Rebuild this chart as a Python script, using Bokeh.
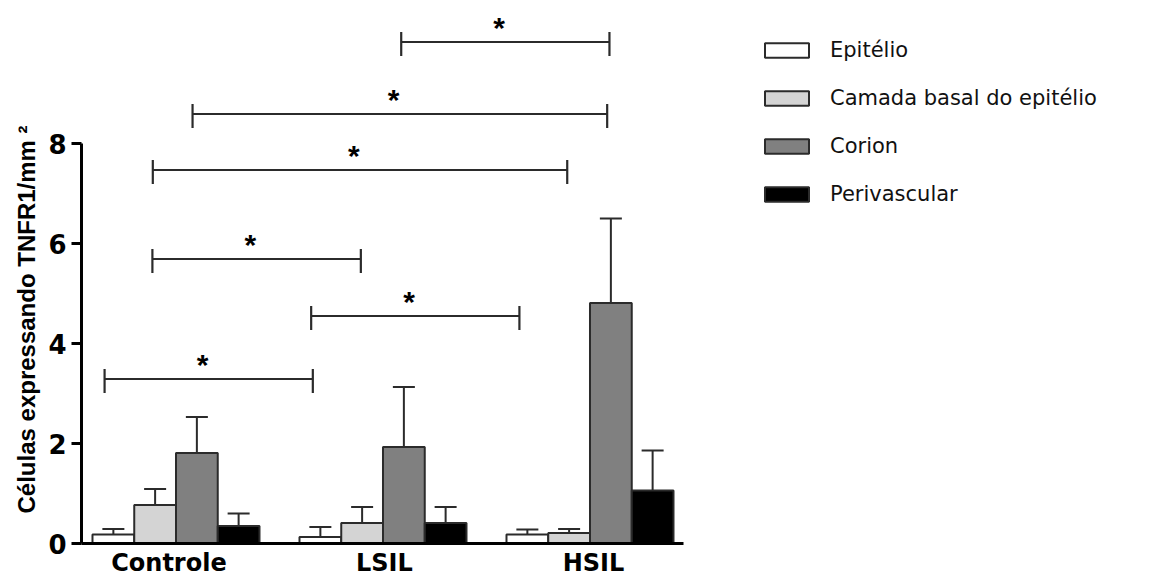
import math
from bokeh.plotting import figure
from bokeh.models import (Range1d, FixedTicker, ColumnDataSource, Whisker, TeeHead,
                          Legend, LegendItem, Title)
from bokeh.core.properties import value
from bokeh.embed import file_html
from bokeh.resources import INLINE

# ---------------- data ----------------
groups = ["Controle", "LSIL", "HSIL"]
group_label_x = [-0.034, 1.007, 2.017]   # where each group label sits
series = ["Epitélio", "Camada basal do epitélio", "Corion", "Perivascular"]
epitelio = [0.18, 0.13, 0.18]
epitelio_err = [0.29, 0.33, 0.28]
basal = [0.77, 0.41, 0.21]
basal_err = [1.09, 0.73, 0.29]
corion = [1.81, 1.93, 4.81]
corion_err = [2.53, 3.13, 6.50]
perivascular = [0.35, 0.41, 1.06]
perivascular_err = [0.60, 0.73, 1.86]
colors = ["#ffffff", "#d4d4d4", "#808080", "#000000"]
y_ticks = [0, 2, 4, 6, 8]

# significance brackets (x in group units, y in data units)
bracket_x0 = [1.088, 0.080, -0.112, -0.114, 0.653, -0.345]
bracket_x1 = [2.094, 2.083, 1.890, 0.893, 1.659, 0.661]
bracket_y = [10.03, 8.59, 7.47, 5.69, 4.55, 3.29]
bracket_label = ["*", "*", "*", "*", "*", "*"]

values = [epitelio, basal, corion, perivascular]
errors = [epitelio_err, basal_err, corion_err, perivascular_err]

# ---------------- layout ----------------
W, H = 1153, 579
left, bottom, top, right = 81, 36, 0, 0
px_x, px_y = 207.0, 50.0
x0 = -0.4565
x1 = x0 + (W - left - right) / px_x
y1 = (H - top - bottom) / px_y

p = figure(width=W, height=H, output_backend="svg", toolbar_location=None,
           x_range=Range1d(x0, x1), y_range=Range1d(0, y1),
           min_border_left=left, min_border_bottom=bottom,
           min_border_top=top, min_border_right=right)
p.outline_line_color = None
p.grid.visible = False
p.background_fill_color = "white"
p.border_fill_color = "white"

bw = 0.2017
line_c = "#2b2b2b"
renderers = []
for i, (vals, errs) in enumerate(zip(values, errors)):
    xs = [g + (i - 1.5) * bw for g in range(len(groups))]
    r = p.vbar(x=xs, width=bw, top=vals, bottom=0, fill_color=colors[i],
               line_color=line_c, line_width=2)
    renderers.append(r)
    src = ColumnDataSource(dict(x=xs, lower=vals, upper=errs))
    p.add_layout(Whisker(source=src, base="x", lower="lower", upper="upper",
                         line_color=line_c, line_width=2,
                         upper_head=TeeHead(size=22, line_width=2, line_color=line_c),
                         lower_head=None))

# brackets
p.segment(x0=bracket_x0, y0=bracket_y, x1=bracket_x1, y1=bracket_y,
          line_color=line_c, line_width=2.2)
tick_up, tick_dn = 0.2, 0.28
p.segment(x0=bracket_x0, y0=[y + tick_up for y in bracket_y],
          x1=bracket_x0, y1=[y - tick_dn for y in bracket_y],
          line_color=line_c, line_width=2.2)
p.segment(x0=bracket_x1, y0=[y + tick_up for y in bracket_y],
          x1=bracket_x1, y1=[y - tick_dn for y in bracket_y],
          line_color=line_c, line_width=2.2)
p.text(x=[(a + b) / 2 - 0.03 for a, b in zip(bracket_x0, bracket_x1)],
       y=[y + 0.29 for y in bracket_y], text=bracket_label,
       text_font=value("Liberation Sans"), text_font_style="bold",
       text_font_size="30px", text_align="center", text_baseline="alphabetic",
       text_color="black")

# axes
p.yaxis.bounds = (0, 8)
p.yaxis.ticker = FixedTicker(ticks=y_ticks)
p.yaxis.minor_tick_line_color = None
p.yaxis.major_tick_in = 0
p.yaxis.major_tick_out = 10
p.yaxis.axis_line_width = 3
p.yaxis.major_tick_line_width = 3
p.yaxis.major_label_standoff = 5
p.yaxis.major_label_text_font = "DejaVu Sans"
p.yaxis.major_label_text_font_style = "bold"
p.yaxis.major_label_text_font_size = "26px"
p.yaxis.major_label_text_color = "black"

p.xaxis.bounds = (x0, (683 - 175.5) / px_x)
p.xaxis.ticker = FixedTicker(ticks=group_label_x)
p.xaxis.major_label_overrides = {t: g for t, g in zip(group_label_x, groups)}
p.xaxis.minor_tick_line_color = None
p.xaxis.major_tick_line_color = None
p.xaxis.major_tick_in = 0
p.xaxis.major_tick_out = 0
p.xaxis.axis_line_width = 3
p.xaxis.major_label_standoff = 5
p.xaxis.major_label_text_font = "DejaVu Sans"
p.xaxis.major_label_text_font_style = "bold"
p.xaxis.major_label_text_font_size = "24px"
p.xaxis.major_label_text_color = "black"

# y-axis title (as a side title so it can be offset along the axis)
p.add_layout(Title(text="Células expressando TNFR1/mm ²", align="left", offset=30,
                   standoff=12, text_font="Liberation Sans", text_font_style="bold",
                   text_font_size="24px", text_color="black"), "left")

# legend
legend = Legend(items=[LegendItem(label=s, renderers=[r]) for s, r in zip(series, renderers)],
                location=(678, 337), glyph_width=55, glyph_height=18,
                label_height=20, spacing=24, padding=0, margin=0,
                border_line_color=None, background_fill_alpha=0,
                label_standoff=16, label_text_font="DejaVu Sans",
                label_text_font_size="21px", label_text_color="#111111")
p.add_layout(legend)

open("out.html", "w").write(file_html(p, INLINE))
